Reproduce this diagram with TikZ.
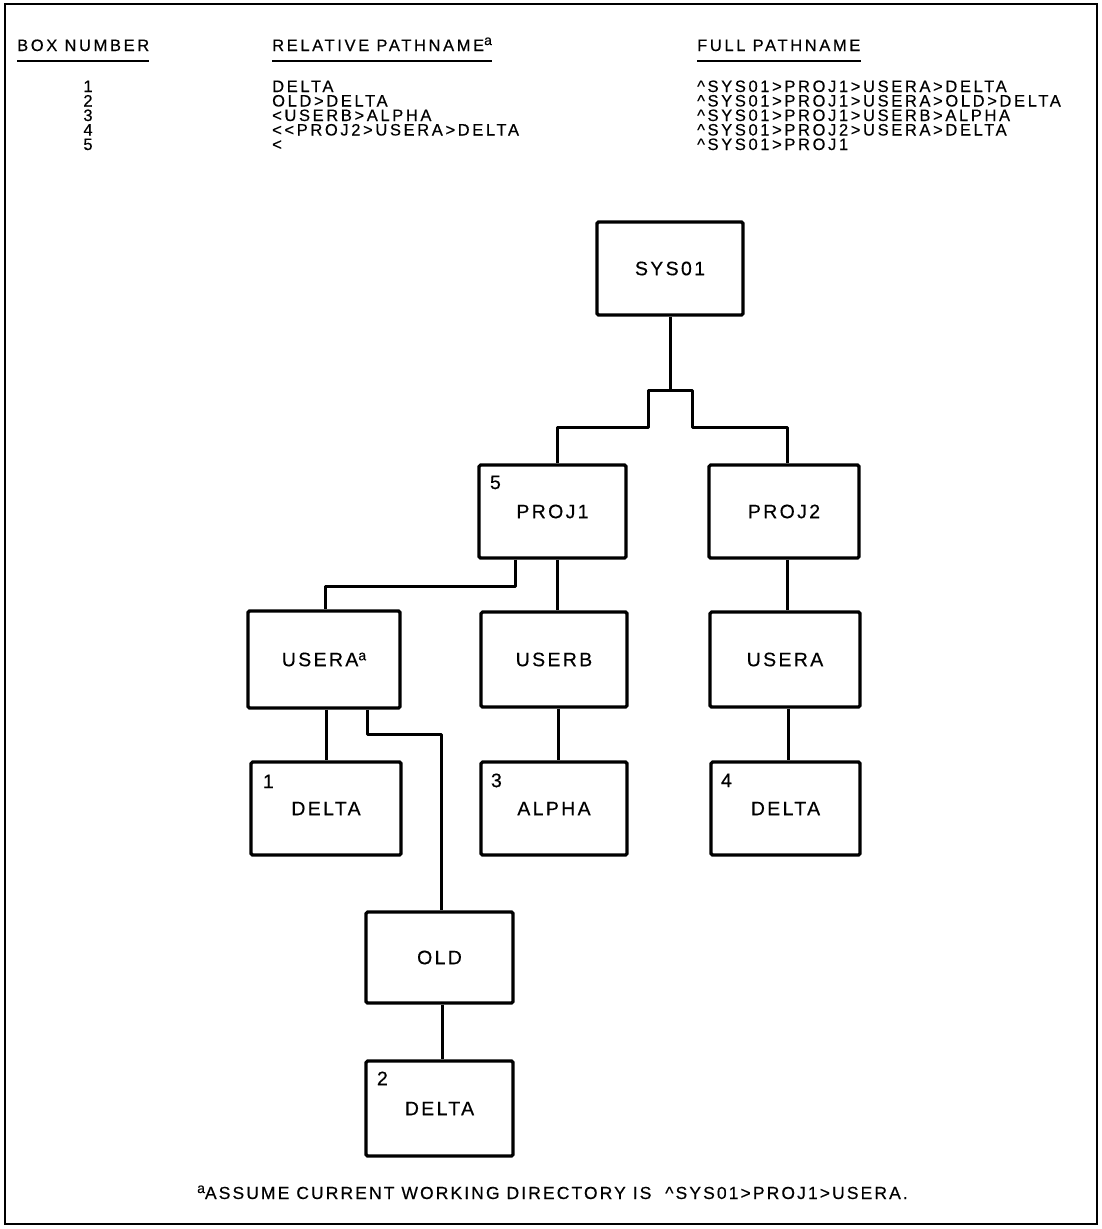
\documentclass[tikz,border=0pt]{standalone}
\usepackage{fontspec}
\setmainfont{Liberation Sans}
\newfontfamily\tblface{Liberation Sans}[LetterSpace=16,FakeBold=0.4]
\newfontfamily\boxface{Liberation Sans}[LetterSpace=12,FakeBold=0.4]
\newfontfamily\noteface{Liberation Sans}[LetterSpace=12,FakeBold=0.4]
\newcommand{\tblfont}{\tblface\fontsize{16.5}{19}\selectfont}
\newcommand{\boxfont}{\boxface\fontsize{19.5}{22}\selectfont}
\newcommand{\notefont}{\noteface\fontsize{17.5}{20}\selectfont}
\newcommand{\supa}{\raisebox{6pt}{\fontsize{14}{14}\selectfont a}}
\usetikzlibrary{calc}
\tikzset{
  frame/.style={line width=2.4pt},
  dirbox/.style={draw, line width=3.2pt, rounded corners=1.5pt, inner sep=0pt, font=\boxfont},
  wire/.style={line width=3pt, line join=round},
  boxnum/.style={font=\boxfont, inner sep=0pt},
  tbl/.style={anchor=base west, inner sep=0pt, font=\tblfont},
  tblrow/.style={tbl, text height=11.8pt, text depth=0pt},
  tblnum/.style={tblrow, anchor=base},
  headrule/.style={line width=2.8pt}
}
\begin{document}
\begin{tikzpicture}[x=1pt,y=-1pt]
\useasboundingbox (0,0) rectangle (1102,1229);
\draw[frame] (5,4) rectangle (1097,1224);

% column headings
\node[tbl] (h1) at (17,51) {BOX NUMBER};
\node[tbl] (h2) at (272,51) {RELATIVE PATHNAME\supa};
\node[tbl] (h3) at (697,51) {FULL PATHNAME};
\foreach \h in {h1,h2,h3}
  \draw[headrule] ([yshift=-10pt]\h.base west) -- ([yshift=-10pt]\h.base east);

% table rows
\node[tblnum] (r1n) at (88,92) {1};
\node[tblnum] (r2n) at (88,106.5) {2};
\node[tblnum] (r3n) at (88,121) {3};
\node[tblnum] (r4n) at (88,135.5) {4};
\node[tblnum] (r5n) at (88,150) {5};
\node[tblrow] (r1r) at (272,92) {DELTA};
\node[tblrow] (r2r) at (272,106.5) {OLD>DELTA};
\node[tblrow] (r3r) at (272,121) {<USERB>ALPHA};
\node[tblrow] (r4r) at (272,135.5) {<<PROJ2>USERA>DELTA};
\node[tblrow] (r5r) at (272,150) {<};
\node[tblrow] (r1f) at (697,92) {\textasciicircum SYS01>PROJ1>USERA>DELTA};
\node[tblrow] (r2f) at (697,106.5) {\textasciicircum SYS01>PROJ1>USERA>OLD>DELTA};
\node[tblrow] (r3f) at (697,121) {\textasciicircum SYS01>PROJ1>USERB>ALPHA};
\node[tblrow] (r4f) at (697,135.5) {\textasciicircum SYS01>PROJ2>USERA>DELTA};
\node[tblrow] (r5f) at (697,150) {\textasciicircum SYS01>PROJ1};

% directory tree boxes
\node[dirbox, minimum width=146pt, minimum height=93pt] (sys)    at (670,268.5) {SYS01};
\node[dirbox, minimum width=147pt, minimum height=93pt] (proj1)  at (552.5,511.5) {PROJ1};
\node[dirbox, minimum width=150pt, minimum height=93pt] (proj2)  at (784,511.5) {PROJ2};
\node[dirbox, minimum width=152pt, minimum height=97pt] (useraL) at (324,659.5) {USERA\supa};
\node[dirbox, minimum width=146pt, minimum height=95pt] (userb)  at (554,659.5) {USERB};
\node[dirbox, minimum width=150pt, minimum height=95pt] (useraR) at (785,659.5) {USERA};
\node[dirbox, minimum width=150pt, minimum height=93pt] (delta1) at (326,808.5) {DELTA};
\node[dirbox, minimum width=146pt, minimum height=93pt] (alpha)  at (554,808.5) {ALPHA};
\node[dirbox, minimum width=149pt, minimum height=93pt] (delta4) at (785.5,808.5) {DELTA};
\node[dirbox, minimum width=147pt, minimum height=91pt] (old)    at (439.5,957.5) {OLD};
\node[dirbox, minimum width=147pt, minimum height=95pt] (delta2) at (439.5,1108.5) {DELTA};

% box numbers
\node[boxnum] (b5) at ([shift={(18pt,-19pt)}]proj1.north west) {5};
\node[boxnum] (b1) at ([shift={(19pt,-21pt)}]delta1.north west) {1};
\node[boxnum] (b3) at ([shift={(17pt,-20pt)}]alpha.north west) {3};
\node[boxnum] (b4) at ([shift={(17pt,-20pt)}]delta4.north west) {4};
\node[boxnum] (b2) at ([shift={(18pt,-19pt)}]delta2.north west) {2};

% connectors
\draw[wire] (sys.south) -- (670,390) -- (648,390) -- (648,427)
  -| ([xshift=4.5pt]proj1.north);
\draw[wire] (670,390) -- (692,390) -- (692,427)
  -| ([xshift=3pt]proj2.north);
\draw[wire] ([xshift=-37.5pt]proj1.south) -- (515,586) -| ([xshift=1pt]useraL.north);
\draw[wire] ([xshift=4.5pt]proj1.south) -- ([xshift=4.5pt]proj1.south |- userb.north);
\draw[wire] ([xshift=3pt]proj2.south) -- ([xshift=3pt]proj2.south |- useraR.north);
\draw[wire] (delta1.north |- useraL.south) -- (delta1.north);
\draw[wire] ([xshift=43pt]useraL.south) -- (367,734) -| ([xshift=2pt]old.north);
\draw[wire] ([xshift=4pt]alpha.north |- userb.south) -- ([xshift=4pt]alpha.north);
\draw[wire] ([xshift=2.5pt]delta4.north |- useraR.south) -- ([xshift=2.5pt]delta4.north);
\draw[wire] ([xshift=3pt]old.south) -- ([xshift=3pt]old.south |- delta2.north);

% footnote
\node[anchor=base west, inner sep=0pt, font=\notefont] (note) at (197,1199)
  {\supa ASSUME CURRENT WORKING DIRECTORY IS\ \ \textasciicircum SYS01>PROJ1>USERA.};
\end{tikzpicture}
\end{document}
